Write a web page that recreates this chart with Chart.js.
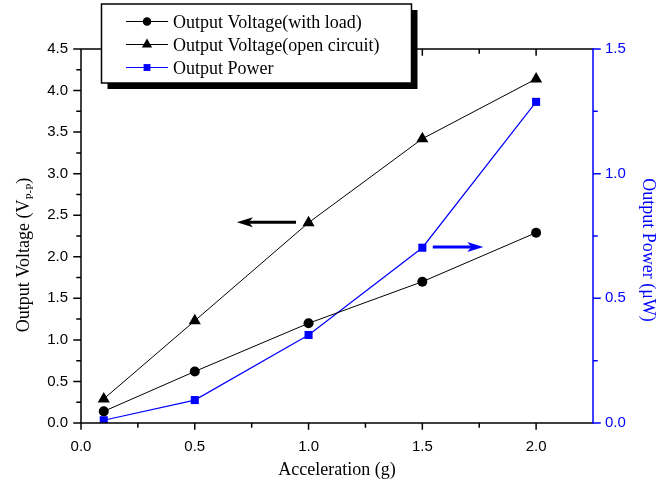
<!DOCTYPE html>
<html>
<head>
<meta charset="utf-8">
<script src="https://cdn.jsdelivr.net/npm/chart.js@4.4.1/dist/chart.umd.min.js"></script>
<style>
  html, body { margin: 0; padding: 0; background: #fff; }
  #wrap { width: 671px; height: 482px; }
</style>
</head>
<body>
<div id="wrap"><canvas id="chart"></canvas></div>
<script>
// values
const accel    = [0.1, 0.5, 1.0, 1.5, 2.0];
const voltLoad = [0.14, 0.62, 1.20, 1.70, 2.29];
const voltOpen = [0.29, 1.23, 2.41, 3.42, 4.14];
const power    = [0.011, 0.092, 0.353, 0.703, 1.288];

const seriesLabels = ["Output Voltage(with load)", "Output Voltage(open circuit)", "Output Power"];
const xTitle  = "Acceleration (g)";
const yTitle  = ["Output Voltage (V", "P-P", ")"];
const y1Title = "Output Power (\u03bcW)";

// arrows pointing at the axis each group belongs to (data units)
const arrowVolt  = { from: 0.945, to: 0.685, at: 2.415 };
const arrowPower = { from: 1.546, to: 1.768, at: 0.706 };

const BLUE  = "#0000ff";
const SANS  = "'Liberation Sans', Arial, sans-serif";
const SERIF = "'Liberation Serif', 'Times New Roman', serif";

const pts = ys => accel.map((x, i) => ({ x, y: ys[i] }));

// walks major + minor (half step) positions of a scale
function eachTick(scale, major, cb) {
    const n = Math.round((scale.max - scale.min) / (major / 2));
    for (let i = 0; i <= n; i++) {
        const v = scale.min + i * major / 2;
        cb(scale.getPixelForValue(v), i % 2 === 0, v);
    }
}

function arrow(ctx, x0, x1, yy, color) {
    const dir = Math.sign(x1 - x0);
    const head = 16, hw = 5;
    ctx.strokeStyle = color;
    ctx.fillStyle = color;
    ctx.lineWidth = 3;
    ctx.beginPath();
    ctx.moveTo(x0, yy);
    ctx.lineTo(x1 - dir * head * 0.7, yy);
    ctx.stroke();
    ctx.beginPath();
    ctx.moveTo(x1, yy);
    ctx.lineTo(x1 - dir * head, yy - hw);
    ctx.lineTo(x1 - dir * head * 0.75, yy);
    ctx.lineTo(x1 - dir * head, yy + hw);
    ctx.closePath();
    ctx.fill();
}

// box frame, tick marks, arrows
const framePlugin = {
    id: "frame",
    afterDatasetsDraw(chart) {
        const { ctx, chartArea: a, scales: { x, y, y1 } } = chart;
        ctx.save();
        ctx.lineCap = "square";
        ctx.lineWidth = 1.5;
        ctx.strokeStyle = "#000";
        ctx.beginPath();
        ctx.moveTo(a.left, a.top);
        ctx.lineTo(a.left, a.bottom);
        ctx.lineTo(a.right, a.bottom);
        ctx.moveTo(a.left, a.top);
        ctx.lineTo(a.right, a.top);
        // bottom (outward) and top (inward) ticks
        eachTick(x, 0.5, (px, major, v) => {
            if (v >= x.max - 1e-9 && !major) return;
            const l = major ? 6 : 4;
            ctx.moveTo(px, a.bottom); ctx.lineTo(px, a.bottom + l);
            ctx.moveTo(px, a.top);    ctx.lineTo(px, a.top + l);
        });
        // left ticks
        eachTick(y, 0.5, (py, major) => {
            const l = major ? 7 : 4;
            ctx.moveTo(a.left, py); ctx.lineTo(a.left - l, py);
        });
        ctx.stroke();

        // right axis in blue
        ctx.strokeStyle = BLUE;
        ctx.beginPath();
        ctx.moveTo(a.right, a.top);
        ctx.lineTo(a.right, a.bottom);
        eachTick(y1, 0.5, (py, major) => {
            const l = major ? 7 : 4;
            ctx.moveTo(a.right, py); ctx.lineTo(a.right + l, py);
        });
        ctx.stroke();

        ctx.lineCap = "butt";
        arrow(ctx, x.getPixelForValue(arrowVolt.from), x.getPixelForValue(arrowVolt.to),
              y.getPixelForValue(arrowVolt.at), "#000");
        arrow(ctx, x.getPixelForValue(arrowPower.from), x.getPixelForValue(arrowPower.to),
              y1.getPixelForValue(arrowPower.at), BLUE);
        ctx.restore();
    }
};

// y titles (left one has a subscript) and the shadowed legend box
const textPlugin = {
    id: "boxLegend",
    afterDraw(chart) {
        const ctx = chart.ctx;
        ctx.save();

        // left title, rotated to read upwards
        ctx.fillStyle = "#000";
        ctx.textBaseline = "alphabetic";
        ctx.textAlign = "left";
        const big = `18px ${SERIF}`, small = `11px ${SERIF}`;
        ctx.font = big;   const w1 = ctx.measureText(yTitle[0]).width;
        ctx.font = small; const w2 = ctx.measureText(yTitle[1]).width;
        ctx.font = big;   const w3 = ctx.measureText(yTitle[2]).width;
        ctx.save();
        ctx.translate(29, 255);
        ctx.rotate(-Math.PI / 2);
        let sx = -(w1 + w2 + w3) / 2;
        ctx.font = big;   ctx.fillText(yTitle[0], sx, 0); sx += w1;
        ctx.font = small; ctx.fillText(yTitle[1], sx, 4); sx += w2;
        ctx.font = big;   ctx.fillText(yTitle[2], sx, 0);
        ctx.restore();

        // right title, rotated to read downwards
        ctx.save();
        ctx.fillStyle = BLUE;
        ctx.font = big;
        ctx.textAlign = "center";
        ctx.translate(643, 250);
        ctx.rotate(Math.PI / 2);
        ctx.fillText(y1Title, 0, 0);
        ctx.restore();

        // legend with drop shadow
        const L = 101.5, T = 4, R = 411.5, B = 83;
        ctx.fillStyle = "#000";
        ctx.fillRect(L + 6, T + 6, R - L, B - T);
        ctx.fillStyle = "#fff";
        ctx.fillRect(L, T, R - L, B - T);
        ctx.strokeStyle = "#000";
        ctx.lineWidth = 1.5;
        ctx.strokeRect(L, T, R - L, B - T);

        chart.data.datasets.forEach((ds, i) => {
            const yy = 21.5 + i * 23;
            ctx.strokeStyle = ds.borderColor;
            ctx.lineWidth = 1.2;
            ctx.beginPath();
            ctx.moveTo(126, yy);
            ctx.lineTo(168, yy);
            ctx.stroke();
            ctx.fillStyle = ds.backgroundColor;
            Chart.helpers.drawPoint(ctx, {
                pointStyle: ds.pointStyle,
                radius: ds.pointRadius * 0.85,
                borderWidth: 0,
                rotation: 0
            }, 147, yy);
            ctx.fillStyle = "#000";
            ctx.font = big;
            ctx.textAlign = "left";
            ctx.fillText(ds.label, 173, yy + 6.5);
        });
        ctx.restore();
    }
};

const tickFont = { family: SANS, size: 15 };

new Chart(document.getElementById("chart"), {
    type: "line",
    data: {
        datasets: [{
            label: seriesLabels[0],
            data: pts(voltLoad),
            yAxisID: "y",
            borderColor: "#000",
            backgroundColor: "#000",
            borderWidth: 1,
            pointStyle: "circle",
            pointRadius: 5,
            pointBorderWidth: 0
        }, {
            label: seriesLabels[1],
            data: pts(voltOpen),
            yAxisID: "y",
            borderColor: "#000",
            backgroundColor: "#000",
            borderWidth: 1,
            pointStyle: "triangle",
            pointRadius: 7,
            pointBorderWidth: 0
        }, {
            label: seriesLabels[2],
            data: pts(power),
            yAxisID: "y1",
            borderColor: BLUE,
            backgroundColor: BLUE,
            borderWidth: 1.2,
            pointStyle: "rect",
            pointRadius: 5.7,
            pointBorderWidth: 0
        }]
    },
    options: {
        responsive: true,
        maintainAspectRatio: false,
        animation: false,
        events: [],
        layout: { padding: { top: 49, left: 0, right: 0, bottom: 0 } },
        plugins: {
            legend: { display: false },
            tooltip: { enabled: false }
        },
        scales: {
            x: {
                type: "linear",
                min: 0,
                max: 2.25,
                afterFit: s => { s.height = 59; },
                grid: { display: false, drawTicks: false },
                border: { display: false },
                ticks: {
                    stepSize: 0.5,
                    autoSkip: false,
                    maxRotation: 0,
                    padding: 15,
                    color: "#000",
                    font: tickFont,
                    callback: v => (Math.abs(v * 2 - Math.round(v * 2)) < 1e-9 ? v.toFixed(1) : "")
                },
                title: {
                    display: true,
                    text: xTitle,
                    color: "#000",
                    font: { family: SERIF, size: 18 },
                    padding: { top: 0, bottom: 1 }
                }
            },
            y: {
                position: "left",
                min: 0,
                max: 4.5,
                afterFit: s => { s.width = 81; },
                grid: { display: false, drawTicks: false },
                border: { display: false },
                ticks: {
                    stepSize: 0.5,
                    padding: 13,
                    color: "#000",
                    font: tickFont,
                    callback: v => v.toFixed(1)
                }
            },
            y1: {
                position: "right",
                min: 0,
                max: 1.5,
                afterFit: s => { s.width = 78; },
                grid: { display: false, drawTicks: false },
                border: { display: false },
                ticks: {
                    stepSize: 0.5,
                    padding: 12,
                    color: BLUE,
                    font: tickFont,
                    callback: v => v.toFixed(1)
                }
            }
        }
    },
    plugins: [framePlugin, textPlugin]
});
</script>
</body>
</html>
